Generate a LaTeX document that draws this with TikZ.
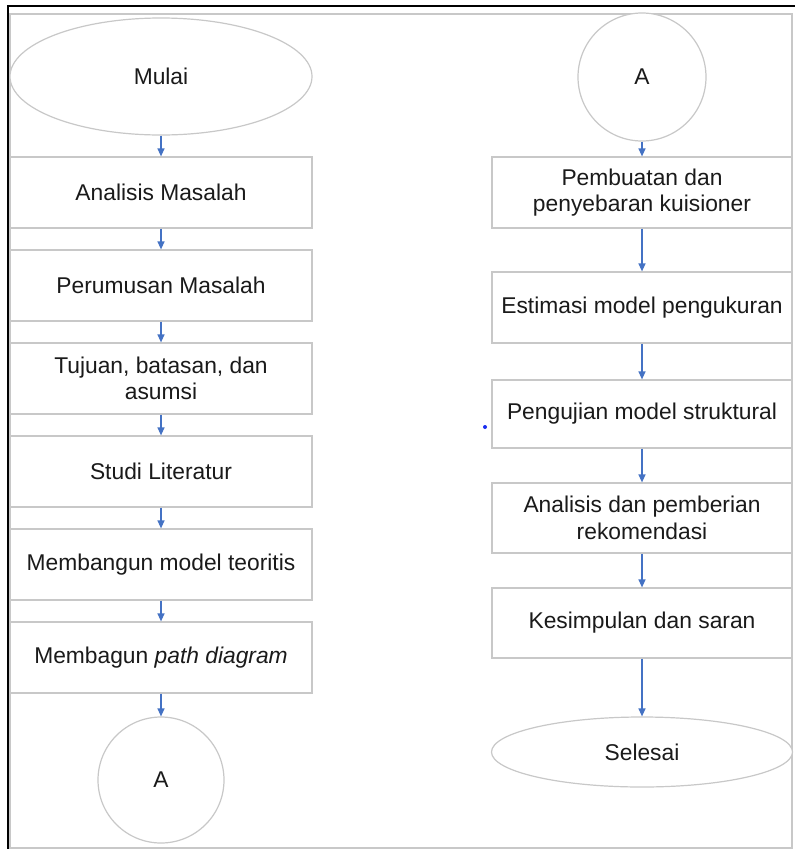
\documentclass[tikz,border=0pt]{standalone}
\usepackage{fontspec}
\setmainfont{Liberation Sans}
\usetikzlibrary{arrows.meta,shapes.geometric}
\definecolor{boxgray}{HTML}{C8C8C8}
\definecolor{arrowblue}{HTML}{4472C4}
\definecolor{txt}{HTML}{1A1A1A}
\definecolor{dotblue}{HTML}{1A2EF0}
\begin{document}
\begin{tikzpicture}[x=1pt,y=-1pt,
  shape base/.style={draw=boxgray,line width=1.2pt,fill=white,inner sep=0pt,align=center,text=txt,
    font=\fontsize{22.8}{26.5}\selectfont},
  lbox/.style={shape base,rectangle,minimum width=302pt,minimum height=71pt},
  rbox/.style={shape base,rectangle,minimum width=300pt,minimum height=#1},
  rbox/.default=71pt,
  term/.style={shape base,ellipse},
  conn/.style={shape base,circle},
  flow/.style={draw=arrowblue,line width=1.3pt,-{Triangle[length=8pt,width=7pt]}}
]
\useasboundingbox (0,0) rectangle (795,849);
\fill[white] (0,0) rectangle (795,849);
% frames
\draw[boxgray,line width=1.2pt] (10,14) rectangle (792,848);
\draw[black,line width=2.5pt] (795,6) -- (8,6) -- (8,849);

% left column
\node[term,minimum width=302pt,minimum height=117pt] (start) at (161,76.5) {Mulai};
\node[lbox] (l1) at (161,192.5) {Analisis Masalah};
\node[lbox] (l2) at (161,285.5) {Perumusan Masalah};
\node[lbox] (l3) at (161,378.5) {Tujuan, batasan, dan\\asumsi};
\node[lbox] (l4) at (161,471.5) {Studi Literatur};
\node[lbox] (l5) at (161,564.5) {Membangun model teoritis};
\node[lbox] (l6) at (161,657.5) {Membagun \textit{path diagram}};
\node[conn,minimum size=126pt] (ca) at (161,780) {A};

\draw[flow] (start) -- (l1);
\draw[flow] (l1) -- (l2);
\draw[flow] (l2) -- (l3);
\draw[flow] (l3) -- (l4);
\draw[flow] (l4) -- (l5);
\draw[flow] (l5) -- (l6);
\draw[flow] (l6) -- (ca);

% right column
\node[conn,minimum size=128pt] (cb) at (642,77) {A};
\node[rbox] (r1) at (642,192.5) {Pembuatan dan\\penyebaran kuisioner};
\node[rbox] (r2) at (642,307.5) {Estimasi model pengukuran};
\node[rbox=68pt] (r3) at (642,414) {Pengujian model struktural};
\node[rbox=70pt] (r4) at (642,518) {Analisis dan pemberian\\rekomendasi};
\node[rbox=70pt] (r5) at (642,623) {Kesimpulan dan saran};
\node[term,minimum width=301pt,minimum height=70pt] (end) at (642,752) {Selesai};

\draw[flow] (cb) -- (r1);
\draw[flow] (r1) -- (r2);
\draw[flow] (r2) -- (r3);
\draw[flow] (r3) -- (r4);
\draw[flow] (r4) -- (r5);
\draw[flow] (r5) -- (end);

\fill[dotblue] (485,427) circle (2pt);
\end{tikzpicture}
\end{document}
